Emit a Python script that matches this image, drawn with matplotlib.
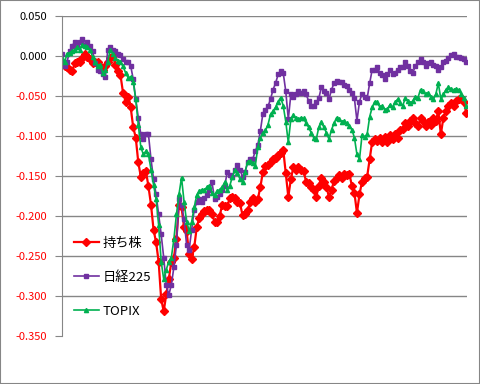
import numpy as np
import matplotlib
matplotlib.use("Agg")
import matplotlib.pyplot as plt
from matplotlib.patches import Rectangle

plt.rcParams['font.family'] = ['Noto Sans CJK JP', 'DejaVu Sans']

# daily relative change (per mille)
mochikabu = np.array([
    -8, -12, -14, -17, -19, -9, -8, -7, -2, 2, -1, -4, -9, -8, -7, -13, -17, -12, -7, -2,
    0, -11, -19, -24, -46, -57, -51, -64, -89, -102, -133, -151, -146, -144, -163, -186, -217, -233, -257, -304,
    -319, -298, -279, -257, -252, -229, -186, -189, -214, -219, -248, -254, -239, -214, -202, -197, -194, -192, -193, -198,
    -207, -208, -200, -186, -187, -188, -177, -176, -178, -182, -184, -199, -197, -193, -183, -178, -183, -179, -164, -145,
    -138, -136, -133, -129, -127, -124, -121, -117, -146, -176, -154, -139, -142, -139, -142, -144, -157, -159, -164, -167,
    -176, -162, -152, -157, -164, -176, -167, -156, -152, -149, -152, -147, -149, -147, -162, -171, -196, -173, -157, -152,
    -151, -129, -107, -104, -106, -103, -108, -101, -107, -99, -104, -97, -102, -93, -91, -84, -88, -81, -77, -84,
    -88, -78, -81, -87, -82, -86, -77, -81, -69, -98, -77, -69, -62, -59, -62, -56, -54, -52, -57, -71,
]) / 1000

nikkei = np.array([
    2, -12, -7, 6, 12, 18, 14, 18, 21, 14, 17, 13, 6, -9, -17, -19, -23, -26, 8, 11,
    8, 6, 2, 1, -4, -8, -7, -12, -29, -54, -77, -98, -104, -97, -98, -129, -154, -173, -198, -223,
    -252, -286, -299, -286, -264, -236, -179, -186, -204, -236, -242, -217, -192, -183, -179, -183, -178, -174, -167, -158,
    -179, -176, -173, -168, -162, -145, -149, -151, -142, -136, -142, -151, -145, -133, -129, -129, -119, -111, -94, -72,
    -67, -63, -54, -42, -34, -23, -19, -21, -44, -79, -48, -51, -47, -44, -46, -44, -48, -56, -62, -63,
    -58, -53, -39, -44, -46, -54, -42, -34, -31, -33, -32, -36, -38, -42, -46, -53, -81, -57, -47, -51,
    -53, -34, -17, -17, -14, -21, -24, -29, -23, -18, -22, -21, -17, -14, -14, -8, -12, -19, -21, -12,
    -8, -4, -8, -13, -9, -7, -11, -13, -18, -14, -8, -6, -3, 1, 2, -1, -1, -3, -4, -8,
]) / 1000

topix = np.array([
    -2, -8, 3, 4, 6, 8, 11, 8, 14, 12, 11, 8, -1, -8, -13, -11, -21, -18, -7, 8,
    2, -2, -6, -7, -13, -21, -27, -26, -32, -54, -86, -114, -123, -119, -123, -142, -161, -179, -211, -257,
    -279, -267, -257, -252, -229, -198, -173, -152, -182, -207, -219, -207, -189, -174, -169, -167, -168, -164, -162, -171,
    -174, -169, -167, -164, -158, -167, -162, -151, -142, -146, -154, -158, -145, -132, -131, -134, -138, -114, -102, -96,
    -93, -86, -73, -69, -64, -57, -52, -62, -82, -108, -79, -74, -78, -79, -77, -78, -84, -89, -96, -102,
    -104, -89, -83, -89, -96, -104, -92, -84, -77, -79, -82, -81, -84, -87, -92, -102, -123, -129, -99, -101,
    -98, -76, -64, -57, -58, -64, -62, -68, -66, -61, -64, -58, -54, -59, -62, -53, -56, -59, -56, -51,
    -52, -42, -44, -48, -46, -51, -54, -48, -34, -54, -48, -42, -39, -41, -43, -41, -42, -47, -53, -62,
]) / 1000

labels = ['持ち株', '日経225', 'TOPIX']
yticks = np.round(np.arange(-0.35, 0.0501, 0.05), 3)

days = np.arange(len(mochikabu))

fig = plt.figure(figsize=(4.8, 3.84), dpi=100)
ax = fig.add_axes([0.1292, 0.125, 0.8438, 0.8333])

ax.plot(days, mochikabu, color='#FF0000', lw=1.6, marker='D', ms=4.2, label=labels[0])
ax.plot(days, nikkei, color='#7030A0', lw=1.2, marker='s', ms=2.8, label=labels[1])
ax.plot(days, topix, color='#00B050', lw=1.2, marker='^', ms=3.0, label=labels[2])

ax.set_xlim(0, len(days) - 0.7)
ax.set_ylim(-0.35, 0.05)
ax.set_yticks(yticks)
ax.set_yticklabels(['%.3f' % (v + 0.0) for v in yticks], fontsize=8)
for t, v in zip(ax.get_yticklabels(), yticks):
    t.set_color('#FF0000' if v < 0 else 'black')
ax.set_xticks([])
ax.tick_params(axis='y', direction='out', length=5, color='#868686', pad=6)

ax.grid(axis='y', color='#868686', lw=1)
ax.get_ygridlines()[0].set_visible(False)
ax.set_axisbelow(True)
for s in ['top', 'right', 'bottom']:
    ax.spines[s].set_visible(False)
ax.spines['left'].set_color('#868686')

ax.legend(loc='lower left', bbox_to_anchor=(0.0, 0.02), frameon=False, fontsize=9.5,
          handlelength=1.9, labelspacing=1.6, handletextpad=0.3)

fig.add_artist(Rectangle((0, 0), 1, 1, transform=fig.transFigure, fill=False,
                         ec='#868686', lw=1.5))

fig.savefig('out.png', dpi=100)
